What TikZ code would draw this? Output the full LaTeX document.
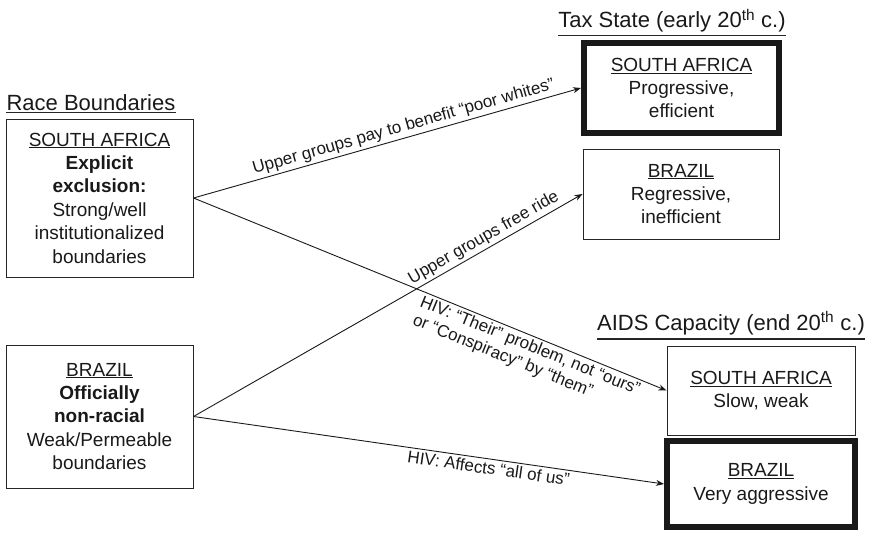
\documentclass[tikz,border=0pt]{standalone}
\usepackage{fontspec}
\setmainfont{Liberation Sans}
\usetikzlibrary{arrows.meta}
\begin{document}
\begin{tikzpicture}[x=1pt,y=-1pt,
  box/.style={draw=black!85, line width=1pt, inner sep=0pt, align=center, text=black!90,
    font=\fontsize{19}{23.4}\selectfont},
  thickbox/.style={box, draw=black!90, line width=6pt},
  lbl/.style={font=\fontsize{17}{19.5}\selectfont, sloped, inner sep=2.5pt, text=black!90},
  arr/.style={line width=0.9pt, draw=black!90, -{Stealth[length=8pt,width=6pt]}},
  ttl/.style={font=\fontsize{22}{26}\selectfont, inner sep=0pt, anchor=base, text=black!90},
  uline/.style={line width=1.1pt, draw=black!85}]
\useasboundingbox (0,0) rectangle (869,535);

% titles
\node[ttl] (tR) at (91,110) {Race Boundaries};
\draw[uline] ([yshift=-2.5pt]tR.base west) -- ([yshift=-2.5pt]tR.base east);
\node[ttl] (tT) at (672,28) {Tax State (early 20\textsuperscript{th} c.)};
\draw[uline] ([yshift=-7.5pt]tT.base west) -- ([yshift=-7.5pt]tT.base east);
\node[ttl] (tA) at (731,330) {AIDS Capacity (end 20\textsuperscript{th} c.)};
\draw[uline] ([yshift=-9pt]tA.base west) -- ([yshift=-9pt]tA.base east);

% left boxes
\node[box, minimum width=187pt, minimum height=158pt] (saL) at (99.5,198)
  {\underline{SOUTH AFRICA}\\ \textbf{Explicit}\\ \textbf{exclusion:}\\ Strong/well\\ institutionalized\\ boundaries};
\node[box, minimum width=187pt, minimum height=143pt] (brL) at (99.5,416.5)
  {\underline{BRAZIL}\\ \textbf{Officially}\\ \textbf{non-racial}\\ Weak/Permeable\\ boundaries};

% tax state boxes
\node[thickbox, minimum width=195pt, minimum height=90pt] (taxSA) at (681.5,88)
  {\underline{SOUTH AFRICA}\\ Progressive,\\ efficient};
\node[box, minimum width=196pt, minimum height=90pt] (taxBR) at (681,194)
  {\underline{BRAZIL}\\ Regressive,\\ inefficient};

% AIDS boxes
\node[box, minimum width=188pt, minimum height=89pt] (aidsSA) at (761,390.5)
  {\underline{SOUTH AFRICA}\\ Slow, weak};
\node[thickbox, minimum width=188pt, minimum height=86pt] (aidsBR) at (761,484)
  {\underline{BRAZIL}\\ Very aggressive};

% connectors
\draw[arr] (saL.east) -- node[lbl, above, pos=0.55] {Upper groups pay to benefit “poor whites”} (taxSA.west);
\draw[arr] (brL.east) -- node[lbl, above, pos=0.76] {Upper groups free ride} (taxBR.west);
\draw[arr] (saL.east) -- node[lbl, below, pos=0.72, align=left] {HIV: “Their” problem, not “ours”\\or “Conspiracy” by “them”} (aidsSA.west);
\draw[arr] (brL.east) -- node[lbl, below, pos=0.63] {HIV: Affects “all of us”} (aidsBR.west);
\end{tikzpicture}
\end{document}
